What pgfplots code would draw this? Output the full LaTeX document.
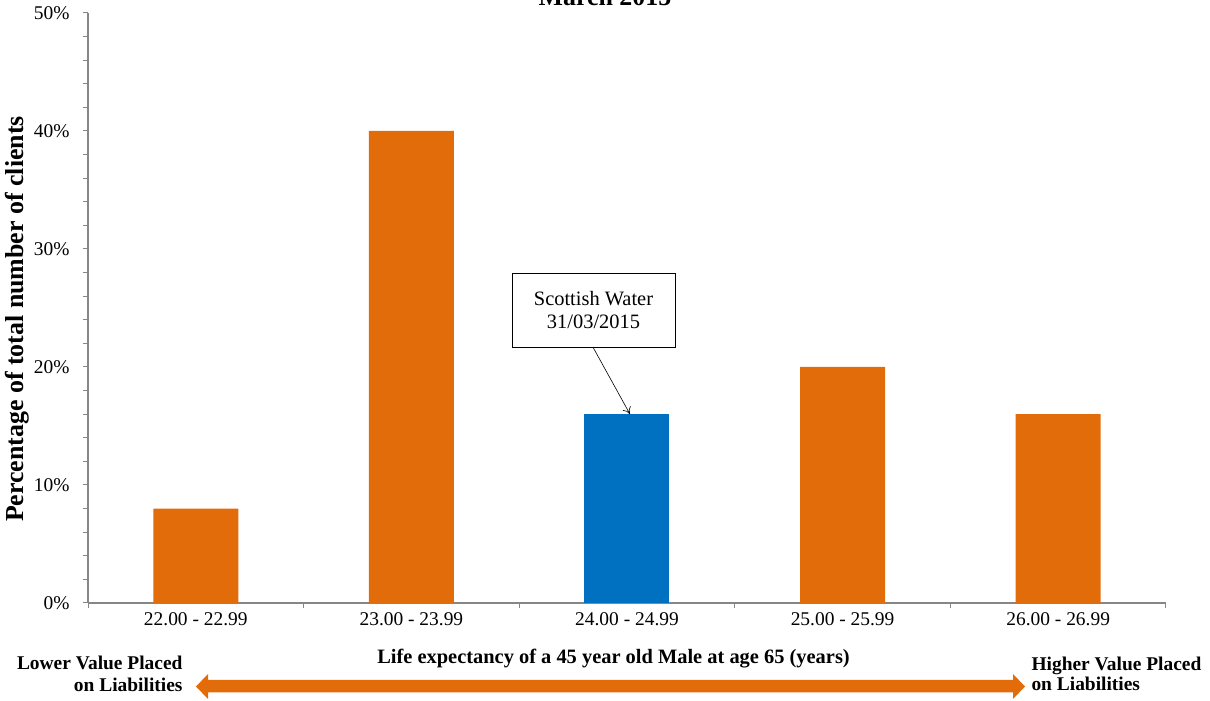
\documentclass[border=0pt]{standalone}
\usepackage{fontspec}
\setmainfont{Liberation Serif}
\usepackage{pgfplots}
\pgfplotsset{compat=1.18}
\usetikzlibrary{arrows.meta}
\definecolor{barorange}{HTML}{E36C0A}
\definecolor{barblue}{HTML}{0070C0}
\definecolor{axisgray}{HTML}{868686}

\begin{document}
\begin{tikzpicture}[x=1bp,y=1bp]
\begin{axis}[
  at={(88bp,98bp)}, anchor=south west,
  scale only axis, width=1078bp, height=590bp,
  xmin=-0.5, xmax=4.5, ymin=0, ymax=50,
  axis lines*=left,
  axis line style={axisgray, line width=1.2bp},
  every tick/.style={axisgray, line width=1bp},
  tick align=outside,
  major tick length=5bp, minor tick length=5bp,
  xtick={-0.5,0.5,1.5,2.5,3.5,4.5}, xticklabels={},
  extra x ticks={0,1,2,3,4},
  extra x tick labels={22.00 - 22.99,23.00 - 23.99,24.00 - 24.99,25.00 - 25.99,26.00 - 26.99},
  extra x tick style={major tick length=0pt},
  ytick={0,10,20,30,40,50},
  yticklabels={0\%,10\%,20\%,30\%,40\%,50\%},
  minor y tick num=4,
  ticklabel style={font=\fontsize{19.5}{23}\selectfont, text=black},
  xticklabel style={yshift=-6bp},
  yticklabel style={xshift=-10bp},
  /pgf/number format/assume math mode=true,
  ybar, bar width=85bp, bar shift=0pt,
  clip=false,
]
\addplot[fill=barorange, draw=none] coordinates {(0,8) (1,40) (3,20) (4,16)};
\addplot[fill=barblue, draw=none] coordinates {(2,16)};
\draw[black, line width=0.6bp, -{To[length=7bp,width=9bp]}] (axis cs:2.0139,16) ++(-37bp,67bp) -- (axis cs:2.0139,16);
\end{axis}

% titles and axis labels
\node[anchor=base, font=\bfseries\fontsize{26}{30}\selectfont] at (605,695) {March 2015};
\node[rotate=90, font=\bfseries\fontsize{26}{30}\selectfont] at (17,382) {Percentage of total number of clients};
\node[font=\bfseries\fontsize{20.5}{24}\selectfont] at (613.5,42) {Life expectancy of a 45 year old Male at age 65 (years)};

% annotation box
\node[draw=black, line width=0.8bp, fill=white, minimum width=163bp, minimum height=74bp, align=center,
      font=\fontsize{20.5}{23}\selectfont] at (593.5,391) {Scottish Water\\31/03/2015};

% direction arrow
\fill[barorange] (196,14.5) -- (208,27) -- (208,21) -- (1013,21) -- (1013,27) -- (1025,14.5)
  -- (1013,2) -- (1013,8.5) -- (208,8.5) -- (208,2) -- cycle;
\node[anchor=east, align=right, font=\bfseries\fontsize{19.5}{22}\selectfont] at (186,27) {Lower Value Placed\\on Liabilities};
\node[anchor=west, align=left, font=\bfseries\fontsize{19.5}{20}\selectfont] at (1028,27) {Higher Value Placed\\on Liabilities};

\pgfresetboundingbox
\path[use as bounding box] (0,0) rectangle (1210,701);
\end{tikzpicture}
\end{document}
